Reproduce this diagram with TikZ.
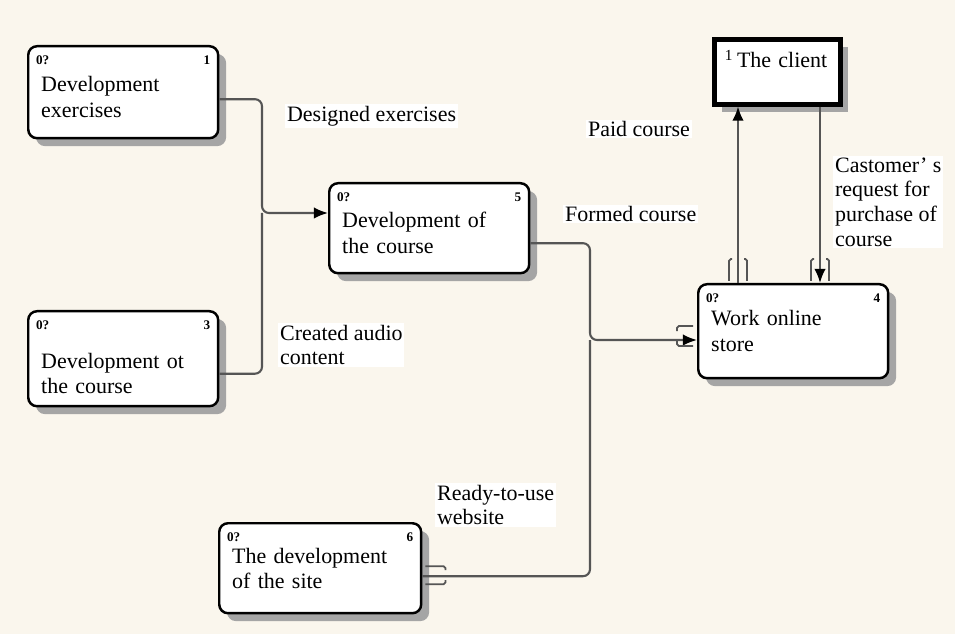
\documentclass[tikz,border=0pt]{standalone}
\usepackage{fontspec}
\setmainfont{Liberation Serif}
\definecolor{paper}{RGB}{250, 246, 237}
\definecolor{wiregray}{RGB}{85, 85, 85}
\definecolor{shadowgray}{RGB}{165, 165, 165}
\usetikzlibrary{arrows.meta, positioning, calc, shadows}

\begin{document}
\begin{tikzpicture}[
  x=0.02cm, y=-0.02cm,
  box/.style={draw, line width=1.4pt, rounded corners=5pt, fill=white, align=left,
    inner xsep=0.26cm, anchor=north west, font=\fontsize{12.5}{14.5}\selectfont,
    drop shadow={shadow xshift=4.5pt, shadow yshift=-4.5pt, fill=shadowgray, opacity=1}},
  tag/.style={font=\fontsize{7.5}{8}\selectfont\bfseries, inner xsep=5pt, inner ysep=6pt},
  flowlbl/.style={font=\fontsize{12.5}{14}\selectfont, align=left, anchor=west, fill=white, inner sep=1pt},
  wire/.style={draw=wiregray, line width=1.2pt, rounded corners=4pt},
  tun/.style={draw=wiregray, line width=1pt, rounded corners=1pt},
  tip/.style={-{Latex[length=8pt, width=6.5pt, black]}}
]
  \useasboundingbox[fill=paper] (0,0) rectangle (955,634);

  % Activity boxes
  \foreach \nm/\px/\py/\w/\h/\num/\txt in {
      b1/27/45/3.8/1.84/1/{\rule{0pt}{0.5cm}Development\\exercises},
      b3/27/310/3.8/1.9/3/{\rule{0pt}{0.9cm}Development ot\\the course},
      b5/328/182/4.0/1.8/5/{\rule{0pt}{0.5cm}Development of\\the course},
      b4/697/283/3.8/1.88/4/{Work online\\store},
      b6/218/522/4.04/1.8/6/{The development\\of the site}} {
    \pgfmathsetmacro\tw{\w-0.52}
    \node[box, text width=\tw cm, minimum height=\h cm,
      label={[tag, anchor=north west]north west:0?},
      label={[tag, anchor=north east]north east:\num}] (\nm) at (\px, \py) {\txt};
  }

  % External entity
  \node[draw, line width=2.6pt, fill=white, anchor=north west, minimum width=2.52cm,
    minimum height=1.3cm, text width=2.1cm, align=left, inner xsep=0.2cm,
    font=\fontsize{12.5}{14.5}\selectfont,
    drop shadow={shadow xshift=4.5pt, shadow yshift=-4.5pt, fill=shadowgray, opacity=1}]
    (client) at (712, 37) {\textsuperscript{1}\,The client\\\mbox{}};

  % Junctions
  \coordinate (j1) at (262, 213);
  \coordinate (j2) at (590, 340);
  \coordinate (up) at (738, 200);
  \coordinate (down) at (820, 200);

  % Arrows
  \draw[wire, tip] ([yshift=-0.14cm]b1.east) -| (j1) -- (b5.west |- j1);
  \draw[wire] ([yshift=-0.3cm]b3.east) -| (j1);
  \draw[wire, tip] ([yshift=-0.3cm]b5.east) -| (j2) -- (b4.west |- j2);
  \draw[wire] ([yshift=-0.16cm]b6.east) -| (j2);
  \draw[wire, tip] (b4.north -| up) -- (client.south -| up);
  \draw[wire, tip] (client.south -| down) -- (b4.north -| down);

  % Tunnels
  \foreach \c in {up, down} {
    \coordinate (t) at (b4.north -| \c);
    \draw[tun] ($(t)+(-6,-24)$) -- ++(-3,0) -- ++(0,22);
    \draw[tun] ($(t)+(6,-24)$) -- ++(3,0) -- ++(0,22);
  }
  \coordinate (t) at (b4.west |- j2);
  \draw[tun] ($(t)+(-4,-14)$) -- ++(-16,0) -- ++(0,5);
  \draw[tun] ($(t)+(-4,6)$) -- ++(-16,0) -- ++(0,-5);
  \coordinate (t) at ([yshift=-0.16cm]b6.east);
  \draw[tun] ($(t)+(3,-10)$) -- ++(20,0) -- ++(0,4);
  \draw[tun] ($(t)+(3,8)$) -- ++(20,0) -- ++(0,-4);

  % Flow labels
  \node[flowlbl] (designed) at (285, 116) {Designed exercises};
  \node[flowlbl] (audio) at (278, 345) {Created audio\\content};
  \node[flowlbl] (formed) at (563, 214) {Formed course};
  \node[flowlbl] (paid) at (586, 129) {Paid course};
  \node[flowlbl] (request) at (833, 202) {Castomer' s\\request for\\purchase of\\course};
  \node[flowlbl] (ready) at (435, 505) {Ready-to-use\\website};
\end{tikzpicture}
\end{document}
